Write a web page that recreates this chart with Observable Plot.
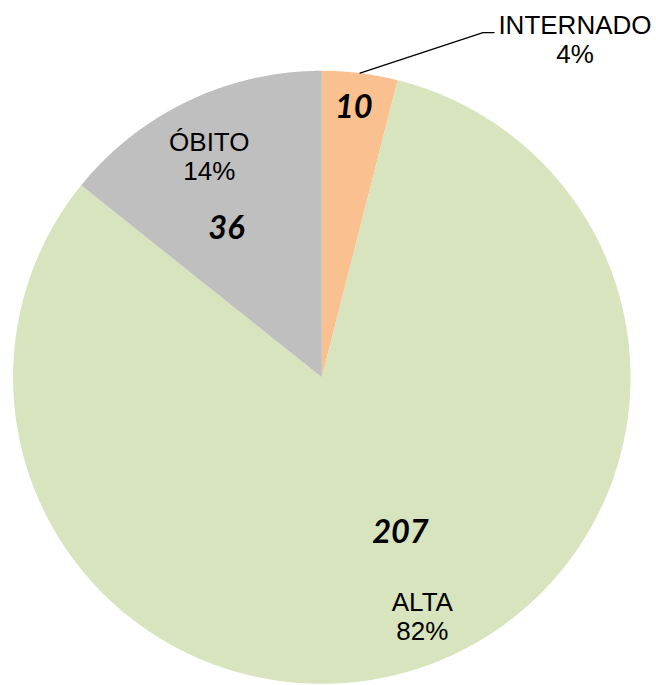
<!DOCTYPE html>
<html>
<head>
<meta charset="utf-8">
<script src="https://cdn.jsdelivr.net/npm/d3@7"></script>
<script src="https://cdn.jsdelivr.net/npm/@observablehq/plot@0.6"></script>
<style>
  html, body { margin: 0; padding: 0; background: #fff; }
  #chart svg { display: block; }
</style>
</head>
<body>
<div id="chart"></div>
<script>
// ---- data ----
const categories = ["INTERNADO", "ALTA", "ÓBITO"];
const values = [10, 207, 36];
const colors = ["#FAC090", "#D7E4BD", "#BFBFBF"];

// ---- layout (label placement along each slice's mid-angle, in radius units / degrees) ----
const numberRadius = [0.886, 0.567, 0.575];
const numberNudge = [-0.4, -8.2, -6.9];
const labelRadius = [1.375, 0.844, 0.808];
const labelNudge = [29.5, -4.2, -1.2];

const total = d3.sum(values);
const arcs = d3.pie().sort(null).value(d => d)(values);

// slice polygons in data space (x = sin, y = cos, unit radius)
const slicePoints = [];
arcs.forEach((a, i) => {
  slicePoints.push({cat: categories[i], color: colors[i], x: 0, y: 0});
  const n = Math.max(2, Math.ceil((a.endAngle - a.startAngle) / (Math.PI / 720)));
  for (let k = 0; k <= n; k++) {
    const t = a.startAngle + (a.endAngle - a.startAngle) * k / n;
    slicePoints.push({cat: categories[i], color: colors[i], x: Math.sin(t), y: Math.cos(t)});
  }
});

const rad = d => d * Math.PI / 180;
const mid = arcs.map(a => (a.startAngle + a.endAngle) / 2);

const numberLabels = values.map((v, i) => {
  const t = mid[i] + rad(numberNudge[i]);
  return {text: String(v), x: numberRadius[i] * Math.sin(t), y: numberRadius[i] * Math.cos(t)};
});
const catLabels = values.map((v, i) => {
  const t = mid[i] + rad(labelNudge[i]);
  return {
    text: categories[i] + "\n" + Math.round(v / total * 100) + "%",
    x: labelRadius[i] * Math.sin(t), y: labelRadius[i] * Math.cos(t)
  };
});

// leader line for the small slice label (outside the pie)
const lead = catLabels[0];
const leaderPts = [
  {x: Math.sin(mid[0]), y: Math.cos(mid[0])},
  {x: lead.x - 0.298, y: lead.y + 0.021},
  {x: lead.x - 0.262, y: lead.y + 0.021}
];

const chart = Plot.plot({
  width: 656,
  height: 685,
  marginLeft: 12.6,
  marginRight: 26,
  marginTop: 70.3,
  marginBottom: 1.7,
  x: {domain: [-1, 1], axis: null},
  y: {domain: [-1, 1], axis: null},
  color: {type: "identity"},
  marks: [
    Plot.line(slicePoints, {
      x: "x", y: "y", z: "cat", fill: "color", stroke: null,
      curve: "linear-closed"
    }),
    Plot.line(leaderPts, {x: "x", y: "y", stroke: "#000", strokeWidth: 1.3}),
    Plot.text(catLabels, {
      x: "x", y: "y", text: "text",
      fontFamily: "'Liberation Sans', Arial, sans-serif",
      fontSize: 26, lineHeight: 1.13, lineAnchor: "middle", textAnchor: "middle",
      fill: "#000"
    }),
    Plot.text(numberLabels, {
      x: "x", y: "y", text: "text",
      fontFamily: "Lato, 'Open Sans', sans-serif",
      fontSize: 32.5, fontWeight: "bold", fontStyle: "italic",
      lineAnchor: "middle", textAnchor: "middle", fill: "#000"
    })
  ]
});
document.getElementById("chart").append(chart);
</script>
</body>
</html>
